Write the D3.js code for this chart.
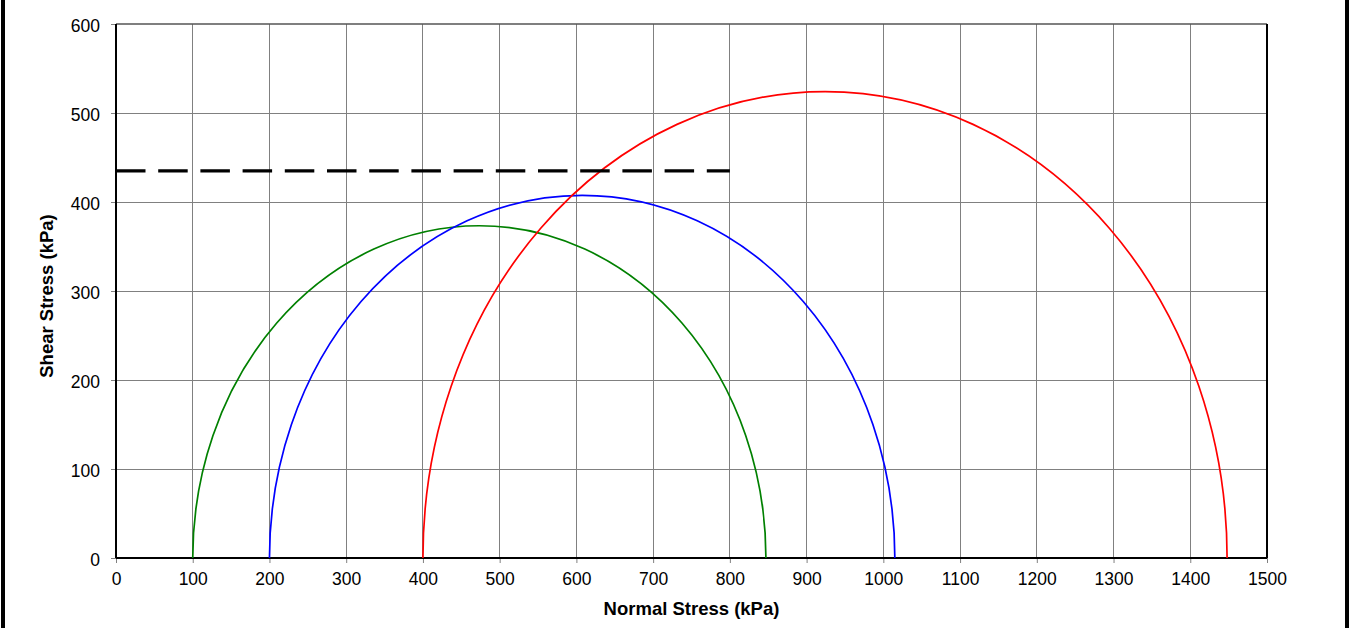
<!DOCTYPE html>
<html><head><meta charset="utf-8">
<script src="https://cdn.jsdelivr.net/npm/d3@7"></script>
<style>body{margin:0;background:#fff}svg{display:block}text{font-family:"Liberation Sans",Arial,sans-serif}</style>
</head><body>
<svg id="c" width="1350" height="628"></svg>
<script>
// Mohr circles: minor and major principal stresses (kPa)
const circleNames = ["Test 1", "Test 2", "Test 3"];
const sigma3 = [100, 200, 400];
const sigma1 = [847, 1015, 1448];
const circleColors = ["#008000", "#0000ff", "#ff0000"];
// Dashed reference line
const dashX = [0, 800];
const dashY = [435, 435];
const xTicks = d3.range(0, 1501, 100);
const yTicks = d3.range(0, 601, 100);

const svg = d3.select("#c");
const L = 116, R = 1267, T = 24, B = 558;
const x = d3.scaleLinear().domain([0, 1500]).range([L, R]);
const y = d3.scaleLinear().domain([0, 600]).range([B, T]);

// outer side bars
svg.append("rect").attr("x", 1).attr("y", 0).attr("width", 4).attr("height", 628).attr("fill", "#000");
svg.append("rect").attr("x", 1345).attr("y", 0).attr("width", 4).attr("height", 628).attr("fill", "#000");

// grid
svg.append("g").selectAll("line").data(xTicks.slice(1, -1)).join("line")
  .attr("x1", d => x(d)).attr("x2", d => x(d)).attr("y1", T).attr("y2", B)
  .attr("stroke", "#808080").attr("stroke-width", 1).attr("shape-rendering", "crispEdges");
svg.append("g").selectAll("line").data(yTicks.slice(1, -1)).join("line")
  .attr("x1", L).attr("x2", R).attr("y1", d => y(d)).attr("y2", d => y(d))
  .attr("stroke", "#808080").attr("stroke-width", 1).attr("shape-rendering", "crispEdges");

// frame top/right
svg.append("line").attr("x1", L).attr("x2", R).attr("y1", T).attr("y2", T).attr("stroke", "#555").attr("stroke-width", 1.5);
svg.append("line").attr("x1", R).attr("x2", R).attr("y1", T).attr("y2", B).attr("stroke", "#000").attr("stroke-width", 2);

// axes
const xAxis = d3.axisBottom(x).tickValues(xTicks).tickSize(5).tickPadding(10).tickFormat(d3.format("d"));
const yAxis = d3.axisLeft(y).tickValues(yTicks).tickSize(5).tickPadding(11).tickFormat(d3.format("d"));
const gx = svg.append("g").attr("transform", `translate(0,${B})`).call(xAxis);
const gy = svg.append("g").attr("transform", `translate(${L},0)`).call(yAxis);
[gx, gy].forEach(g => {
  g.attr("font-size", null).attr("font-family", null);
  g.select(".domain").remove();
  g.selectAll(".tick line").attr("stroke", "#808080");
  g.selectAll(".tick text").attr("fill", "#000")
   .style("font-size", "17.5px").style("font-family", "'Liberation Sans', Arial, sans-serif");
});
gy.selectAll(".tick text").attr("dy", "0.45em");
svg.append("line").attr("x1", L).attr("x2", L).attr("y1", T).attr("y2", B).attr("stroke", "#000").attr("stroke-width", 2);
svg.append("line").attr("x1", L).attr("x2", R).attr("y1", B).attr("y2", B).attr("stroke", "#000").attr("stroke-width", 2);

// Mohr semicircles as elliptical arcs in pixel space
const circles = sigma3.map((s3, i) => ({ s3, s1: sigma1[i], c: circleColors[i] }));
svg.append("g").selectAll("path").data(circles).join("path")
  .attr("d", d => {
    const r = (d.s1 - d.s3) / 2;
    const rx = x(d.s1) - x((d.s1 + d.s3) / 2);
    const ry = y(0) - y(r);
    return `M${x(d.s3)},${y(0)} A${rx},${ry} 0 0 1 ${x(d.s1)},${y(0)}`;
  })
  .attr("fill", "none").attr("stroke", d => d.c).attr("stroke-width", 1.7);

// dashed line
svg.append("path")
  .attr("d", d3.line().x(d => x(d[0])).y(d => y(d[1]))(dashX.map((v, i) => [v, dashY[i]])))
  .attr("stroke", "#000").attr("stroke-width", 3.2).attr("fill", "none")
  .attr("stroke-dasharray", "29.5,12.7");

// axis titles
svg.append("text").attr("x", (L + R) / 2).attr("y", 615).attr("text-anchor", "middle")
  .style("font-size", "18.5px").attr("font-weight", "bold").text("Normal Stress (kPa)");
svg.append("text").attr("transform", `translate(53,296) rotate(-90)`).attr("text-anchor", "middle")
  .style("font-size", "18.5px").attr("font-weight", "bold").text("Shear Stress (kPa)");
</script>
</body></html>
